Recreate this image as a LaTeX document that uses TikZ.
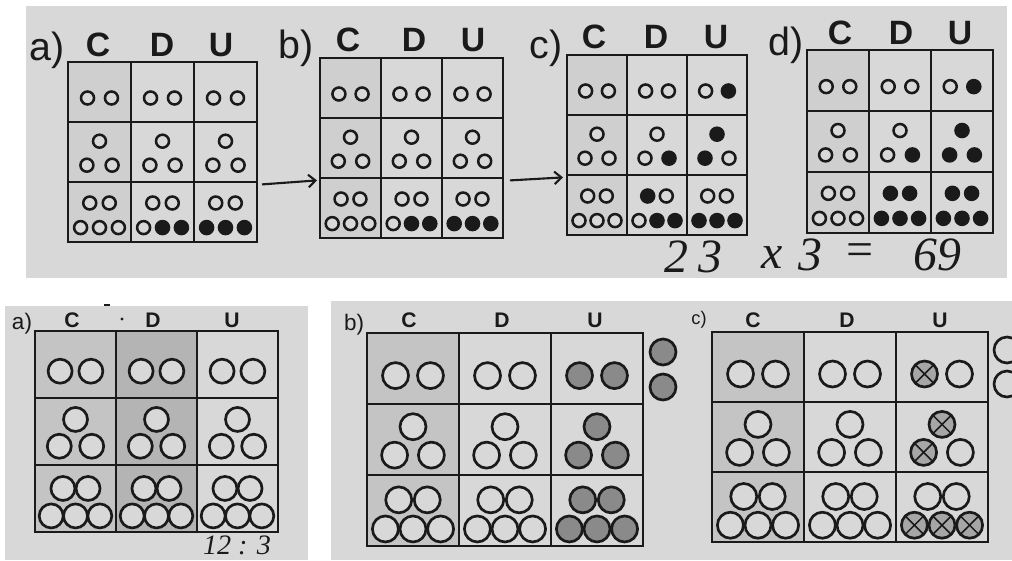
\documentclass[tikz,border=0pt]{standalone}
\usepackage{fontspec}
\setmainfont{Liberation Serif}
\setsansfont{Liberation Sans}
\usetikzlibrary{arrows.meta,calc}
\definecolor{panelgray}{HTML}{D8D8D8}
\definecolor{topshade}{HTML}{CFCFCF}
\definecolor{colshade}{HTML}{C4C4C4}
\definecolor{coldark}{HTML}{B4B4B4}
\definecolor{beadgray}{HTML}{8A8A8A}
\definecolor{inkblack}{HTML}{1A1A1A}

\newcommand\unitpx{0.025cm}
% grid of 3x3 cells: name, left, top, cell width, cell height
\newcommand\cdugrid[5]{%
  \node[gridbox,minimum width=3*#4*\unitpx,minimum height=3*#5*\unitpx,anchor=north west] (#1) at (#2,#3) {};
  \foreach \k in {1,2} {
    \draw[gridline] ($(#1.north west)!\k/3!(#1.north east)$) -- ($(#1.south west)!\k/3!(#1.south east)$);
    \draw[gridline] ($(#1.north west)!\k/3!(#1.south west)$) -- ($(#1.north east)!\k/3!(#1.south east)$);
  }
}
% one column of beads: left, top, cell width, cell height, radius, 10 bead kinds
\newcommand\beadcol[6]{%
  \foreach \t [count=\i from 0] in {#6} {
    \pgfmathsetmacro\bx{#1+#3*{0.31,0.69,0.5,0.3,0.7,0.345,0.655,0.2,0.5,0.8}[\i]}
    \pgfmathsetmacro\by{#2+#4*({0,0,1,1,1,2,2,2,2,2}[\i]+{0.6,0.6,0.32,0.72,0.72,0.35,0.35,0.76,0.76,0.76}[\i])}
    \draw[bead,\t] (\bx,\by) circle[radius=#5];
  }
}

\begin{document}
\begin{tikzpicture}[x=0.025cm,y=-0.025cm,
  bead/.style={draw=inkblack,line width=1.8pt},
  bo/.style={fill=panelgray},
  bf/.style={fill=inkblack},
  bg/.style={fill=beadgray},
  bx/.style={fill=black!35,path picture={
      \draw[inkblack,line width=1.1pt] (path picture bounding box.south west) -- (path picture bounding box.north east)
        (path picture bounding box.north west) -- (path picture bounding box.south east);}},
  gridbox/.style={draw=inkblack,line width=2pt,outer sep=0pt,inner sep=0pt},
  gridline/.style={draw=inkblack,line width=2pt},
  cdu/.style={font=\sffamily\bfseries\fontsize{24}{28}\selectfont,inner sep=0pt,text=inkblack},
  cdusmall/.style={font=\sffamily\bfseries\fontsize{15}{18}\selectfont,inner sep=0pt,text=inkblack},
  tag/.style={font=\sffamily\fontsize{28}{32}\selectfont,inner sep=0pt,text=inkblack},
  tagsmall/.style={font=\sffamily\fontsize{16}{19}\selectfont,inner sep=0pt,text=inkblack},
  hand/.style={font=\itshape\fontsize{34}{40}\selectfont,inner sep=0pt,text=inkblack},
  flow/.style={-{Straight Barb[length=5pt,width=9pt]},line width=1.5pt,draw=inkblack},
]
  \useasboundingbox (0,0) rectangle (1012,560);
  \clip (0,0) rectangle (1012,560);

  \fill[panelgray] (26,6) rectangle (1007,278);
  \fill[panelgray] (5,306) rectangle (308,560);
  \fill[panelgray] (331,301) rectangle (1012,560);

  \fill[topshade] (68,62) rectangle ++(63,180);
  \fill[topshade] (320,58) rectangle ++(61,180);
  \fill[topshade] (567,55) rectangle ++(60,180);
  \fill[topshade] (807,50) rectangle ++(62,183);
  \fill[colshade] (35,331) rectangle ++(81,201);
  \fill[coldark] (116,331) rectangle ++(81,201);
  \fill[colshade] (367,333) rectangle ++(92,213);
  \fill[colshade] (712,332) rectangle ++(92,210);

  \cdugrid{ta}{68}{62}{63}{60}
  \cdugrid{tb}{320}{58}{61}{60}
  \cdugrid{tc}{567}{55}{60}{60}
  \cdugrid{td}{807}{50}{62}{61}

  \beadcol{68}{62}{63}{60}{6.5}{bo,bo,bo,bo,bo,bo,bo,bo,bo,bo}
  \beadcol{131}{62}{63}{60}{6.5}{bo,bo,bo,bo,bo,bo,bo,bo,bf,bf}
  \beadcol{194}{62}{63}{60}{6.5}{bo,bo,bo,bo,bo,bo,bo,bf,bf,bf}
  \beadcol{320}{58}{61}{60}{6.5}{bo,bo,bo,bo,bo,bo,bo,bo,bo,bo}
  \beadcol{381}{58}{61}{60}{6.5}{bo,bo,bo,bo,bo,bo,bo,bo,bf,bf}
  \beadcol{442}{58}{61}{60}{6.5}{bo,bo,bo,bo,bo,bo,bo,bf,bf,bf}
  \beadcol{567}{55}{60}{60}{6.5}{bo,bo,bo,bo,bo,bo,bo,bo,bo,bo}
  \beadcol{627}{55}{60}{60}{6.5}{bo,bo,bo,bo,bf,bf,bo,bo,bf,bf}
  \beadcol{687}{55}{60}{60}{6.5}{bo,bf,bf,bf,bo,bo,bo,bf,bf,bf}
  \beadcol{807}{50}{62}{61}{6.5}{bo,bo,bo,bo,bo,bo,bo,bo,bo,bo}
  \beadcol{869}{50}{62}{61}{6.5}{bo,bo,bo,bo,bf,bf,bf,bf,bf,bf}
  \beadcol{931}{50}{62}{61}{6.5}{bo,bf,bf,bf,bf,bf,bf,bf,bf,bf}

  \node[tag] (ta-tag) at (47,50) {a)};
  \node[cdu] (ta-C) at (98,45) {C};
  \node[cdu] (ta-D) at (162,45) {D};
  \node[cdu] (ta-U) at (221,45) {U};
  \node[tag] (tb-tag) at (296,48) {b)};
  \node[cdu] (tb-C) at (348,40) {C};
  \node[cdu] (tb-D) at (414,40) {D};
  \node[cdu] (tb-U) at (473,40) {U};
  \node[tag] (tc-tag) at (546,48) {c)};
  \node[cdu] (tc-C) at (594,37) {C};
  \node[cdu] (tc-D) at (656,37) {D};
  \node[cdu] (tc-U) at (716,37) {U};
  \node[tag] (td-tag) at (786,45) {d)};
  \node[cdu] (td-C) at (840,33) {C};
  \node[cdu] (td-D) at (901,33) {D};
  \node[cdu] (td-U) at (960,33) {U};

  \draw[flow] ($(ta.north east)!0.68!(ta.south east)+(5,0)$) -- ($(tb.north west)!0.68!(tb.south west)+(-3,0)$);
  \draw[flow] ($(tb.north east)!0.68!(tb.south east)+(7,0)$) -- ($(tc.north west)!0.68!(tc.south west)+(-4,0)$);

  \node[hand] (n-2) at (676,257) {2};
  \node[hand] (n-3) at (710,257) {3};
  \node[hand] (n-x) at (772,258) {x};
  \node[hand] (n-f) at (810,255) {3};
  \node[hand] (n-eq) at (860,255) {=};
  \node[hand] (n-69) at (937,255) {69};

  \begin{scope}[bead/.append style={line width=1.9pt},gridbox/.append style={line width=1.8pt},
                gridline/.append style={line width=1.8pt}]
    \cdugrid{ba}{35}{331}{81}{67}
    \cdugrid{bb}{367}{333}{92}{71}
    \cdugrid{bc}{712}{332}{92}{70}

    \beadcol{35}{331}{81}{67}{12}{bo,bo,bo,bo,bo,bo,bo,bo,bo,bo}
    \beadcol{116}{331}{81}{67}{12}{bo,bo,bo,bo,bo,bo,bo,bo,bo,bo}
    \beadcol{197}{331}{81}{67}{12}{bo,bo,bo,bo,bo,bo,bo,bo,bo,bo}
    \beadcol{367}{333}{92}{71}{13}{bo,bo,bo,bo,bo,bo,bo,bo,bo,bo}
    \beadcol{459}{333}{92}{71}{13}{bo,bo,bo,bo,bo,bo,bo,bo,bo,bo}
    \beadcol{551}{333}{92}{71}{13}{bg,bg,bg,bg,bg,bg,bg,bg,bg,bg}
    \beadcol{712}{332}{92}{70}{13}{bo,bo,bo,bo,bo,bo,bo,bo,bo,bo}
    \beadcol{804}{332}{92}{70}{13}{bo,bo,bo,bo,bo,bo,bo,bo,bo,bo}
    \beadcol{896}{332}{92}{70}{13}{bx,bo,bx,bx,bo,bo,bo,bx,bx,bx}

    \draw[bead,bg] (663,352) circle[radius=13];
    \draw[bead,bg] (663,387) circle[radius=13];
    \draw[bead,bo] (1007,350) circle[radius=13];
    \draw[bead,bo] (1007,384) circle[radius=13];
  \end{scope}

  \fill[inkblack] (122,319) circle[radius=1.6];
  \fill[inkblack] (104,304) rectangle (110,306);

  \node[tagsmall] (ba-tag) at (22,324) {a)};
  \node[cdusmall] (ba-C) at (72,320) {C};
  \node[cdusmall] (ba-D) at (153,320) {D};
  \node[cdusmall] (ba-U) at (232,320) {U};
  \node[tagsmall] (bb-tag) at (354,325) {b)};
  \node[cdusmall] (bb-C) at (409,320) {C};
  \node[cdusmall] (bb-D) at (502,320) {D};
  \node[cdusmall] (bb-U) at (595,320) {U};
  \node[font=\sffamily\fontsize{13}{15}\selectfont,inner sep=0pt,text=inkblack] (bc-tag) at (699,320) {c)};
  \node[cdusmall] (bc-C) at (753,320) {C};
  \node[cdusmall] (bc-D) at (847,320) {D};
  \node[cdusmall] (bc-U) at (940,320) {U};

  \node[font=\itshape\fontsize{20}{24}\selectfont,inner sep=0pt,text=inkblack] (ba-div) at (237,545) {12 : 3};
\end{tikzpicture}
\end{document}
